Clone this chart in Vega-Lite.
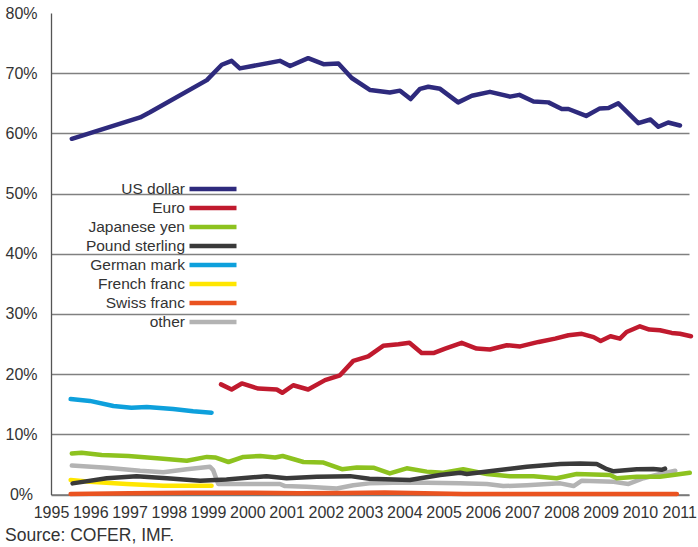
{
  "$schema": "https://vega.github.io/schema/vega-lite/v6.json",
  "autosize": {"type": "none"},
  "width": 638,
  "height": 481.5,
  "padding": {"left": 51, "top": 13, "right": 9, "bottom": 52.5},
  "background": "white",
  "title": {
    "text": "Source: COFER, IMF.",
    "orient": "bottom",
    "anchor": "start",
    "frame": "group",
    "dx": -46,
    "offset": 6,
    "fontSize": 17.5,
    "font": "Liberation Sans",
    "fontWeight": "normal",
    "color": "#333333"
  },
  "config": {
    "view": {"stroke": null},
    "font": "Liberation Sans"
  },
  "datasets": {
    "reserves": [
      {"currency": "other", "year": 1995.53, "share": 4.8},
      {"currency": "other", "year": 1996.42, "share": 4.45},
      {"currency": "other", "year": 1997.27, "share": 3.95},
      {"currency": "other", "year": 1997.86, "share": 3.7},
      {"currency": "other", "year": 1998.46, "share": 4.2},
      {"currency": "other", "year": 1999.05, "share": 4.6},
      {"currency": "other", "year": 1999.13, "share": 4.05},
      {"currency": "other", "year": 1999.26, "share": 1.75},
      {"currency": "other", "year": 1999.81, "share": 1.75},
      {"currency": "other", "year": 2000.83, "share": 1.75},
      {"currency": "other", "year": 2000.96, "share": 1.4},
      {"currency": "other", "year": 2001.51, "share": 1.3},
      {"currency": "other", "year": 2002.28, "share": 1.0},
      {"currency": "other", "year": 2002.7, "share": 1.55},
      {"currency": "other", "year": 2003.11, "share": 1.85},
      {"currency": "other", "year": 2003.72, "share": 1.95},
      {"currency": "other", "year": 2004.57, "share": 1.95},
      {"currency": "other", "year": 2005.42, "share": 1.85},
      {"currency": "other", "year": 2006.1, "share": 1.75},
      {"currency": "other", "year": 2006.52, "share": 1.4},
      {"currency": "other", "year": 2007.12, "share": 1.55},
      {"currency": "other", "year": 2007.97, "share": 1.85},
      {"currency": "other", "year": 2008.31, "share": 1.4},
      {"currency": "other", "year": 2008.52, "share": 2.3},
      {"currency": "other", "year": 2009.33, "share": 2.1},
      {"currency": "other", "year": 2009.71, "share": 1.75},
      {"currency": "other", "year": 2010.09, "share": 2.7},
      {"currency": "other", "year": 2010.51, "share": 3.4},
      {"currency": "other", "year": 2010.9, "share": 3.95},

      {"currency": "French franc", "year": 1995.5, "share": 2.4},
      {"currency": "French franc", "year": 1995.99, "share": 2.1},
      {"currency": "French franc", "year": 1996.93, "share": 1.75},
      {"currency": "French franc", "year": 1997.86, "share": 1.45},
      {"currency": "French franc", "year": 1999.09, "share": 1.45},

      {"currency": "German mark", "year": 1995.5, "share": 15.85},
      {"currency": "German mark", "year": 1995.99, "share": 15.55},
      {"currency": "German mark", "year": 1996.59, "share": 14.7},
      {"currency": "German mark", "year": 1997.05, "share": 14.4},
      {"currency": "German mark", "year": 1997.44, "share": 14.55},
      {"currency": "German mark", "year": 1998.11, "share": 14.2},
      {"currency": "German mark", "year": 1998.62, "share": 13.85},
      {"currency": "German mark", "year": 1999.09, "share": 13.6},

      {"currency": "Japanese yen", "year": 1995.53, "share": 6.8},
      {"currency": "Japanese yen", "year": 1995.78, "share": 6.95},
      {"currency": "Japanese yen", "year": 1996.29, "share": 6.55},
      {"currency": "Japanese yen", "year": 1996.97, "share": 6.4},
      {"currency": "Japanese yen", "year": 1997.78, "share": 6.0},
      {"currency": "Japanese yen", "year": 1998.46, "share": 5.6},
      {"currency": "Japanese yen", "year": 1998.97, "share": 6.25},
      {"currency": "Japanese yen", "year": 1999.18, "share": 6.15},
      {"currency": "Japanese yen", "year": 1999.52, "share": 5.4},
      {"currency": "Japanese yen", "year": 1999.9, "share": 6.25},
      {"currency": "Japanese yen", "year": 2000.33, "share": 6.4},
      {"currency": "Japanese yen", "year": 2000.71, "share": 6.15},
      {"currency": "Japanese yen", "year": 2000.9, "share": 6.4},
      {"currency": "Japanese yen", "year": 2001.43, "share": 5.4},
      {"currency": "Japanese yen", "year": 2001.94, "share": 5.3},
      {"currency": "Japanese yen", "year": 2002.41, "share": 4.2},
      {"currency": "Japanese yen", "year": 2002.79, "share": 4.5},
      {"currency": "Japanese yen", "year": 2003.21, "share": 4.45},
      {"currency": "Japanese yen", "year": 2003.63, "share": 3.5},
      {"currency": "Japanese yen", "year": 2004.06, "share": 4.35},
      {"currency": "Japanese yen", "year": 2004.57, "share": 3.8},
      {"currency": "Japanese yen", "year": 2004.99, "share": 3.6},
      {"currency": "Japanese yen", "year": 2005.5, "share": 4.2},
      {"currency": "Japanese yen", "year": 2006.1, "share": 3.4},
      {"currency": "Japanese yen", "year": 2006.69, "share": 3.05},
      {"currency": "Japanese yen", "year": 2007.29, "share": 3.05},
      {"currency": "Japanese yen", "year": 2007.88, "share": 2.7},
      {"currency": "Japanese yen", "year": 2008.39, "share": 3.4},
      {"currency": "Japanese yen", "year": 2009.24, "share": 3.25},
      {"currency": "Japanese yen", "year": 2009.41, "share": 2.7},
      {"currency": "Japanese yen", "year": 2009.92, "share": 2.95},
      {"currency": "Japanese yen", "year": 2010.51, "share": 2.95},
      {"currency": "Japanese yen", "year": 2011.27, "share": 3.6},

      {"currency": "Pound sterling", "year": 1995.55, "share": 1.85},
      {"currency": "Pound sterling", "year": 1996.42, "share": 2.7},
      {"currency": "Pound sterling", "year": 1997.18, "share": 3.05},
      {"currency": "Pound sterling", "year": 1997.95, "share": 2.7},
      {"currency": "Pound sterling", "year": 1998.8, "share": 2.3},
      {"currency": "Pound sterling", "year": 1999.47, "share": 2.5},
      {"currency": "Pound sterling", "year": 2000.49, "share": 3.05},
      {"currency": "Pound sterling", "year": 2001.0, "share": 2.7},
      {"currency": "Pound sterling", "year": 2001.77, "share": 2.95},
      {"currency": "Pound sterling", "year": 2002.62, "share": 3.05},
      {"currency": "Pound sterling", "year": 2003.11, "share": 2.6},
      {"currency": "Pound sterling", "year": 2004.14, "share": 2.4},
      {"currency": "Pound sterling", "year": 2004.91, "share": 3.25},
      {"currency": "Pound sterling", "year": 2005.42, "share": 3.6},
      {"currency": "Pound sterling", "year": 2005.59, "share": 3.4},
      {"currency": "Pound sterling", "year": 2006.27, "share": 3.95},
      {"currency": "Pound sterling", "year": 2007.12, "share": 4.6},
      {"currency": "Pound sterling", "year": 2007.97, "share": 5.05},
      {"currency": "Pound sterling", "year": 2008.48, "share": 5.15},
      {"currency": "Pound sterling", "year": 2008.9, "share": 5.05},
      {"currency": "Pound sterling", "year": 2009.16, "share": 4.2},
      {"currency": "Pound sterling", "year": 2009.33, "share": 3.85},
      {"currency": "Pound sterling", "year": 2009.92, "share": 4.2},
      {"currency": "Pound sterling", "year": 2010.34, "share": 4.25},
      {"currency": "Pound sterling", "year": 2010.55, "share": 4.1},
      {"currency": "Pound sterling", "year": 2010.64, "share": 4.3},

      {"currency": "Euro", "year": 1999.33, "share": 18.3},
      {"currency": "Euro", "year": 1999.6, "share": 17.45},
      {"currency": "Euro", "year": 1999.86, "share": 18.45},
      {"currency": "Euro", "year": 2000.28, "share": 17.6},
      {"currency": "Euro", "year": 2000.75, "share": 17.45},
      {"currency": "Euro", "year": 2000.89, "share": 16.9},
      {"currency": "Euro", "year": 2001.17, "share": 18.15},
      {"currency": "Euro", "year": 2001.55, "share": 17.45},
      {"currency": "Euro", "year": 2001.98, "share": 19.0},
      {"currency": "Euro", "year": 2002.36, "share": 19.8},
      {"currency": "Euro", "year": 2002.7, "share": 22.2},
      {"currency": "Euro", "year": 2003.08, "share": 22.95},
      {"currency": "Euro", "year": 2003.46, "share": 24.7},
      {"currency": "Euro", "year": 2003.85, "share": 24.95},
      {"currency": "Euro", "year": 2004.13, "share": 25.2},
      {"currency": "Euro", "year": 2004.44, "share": 23.5},
      {"currency": "Euro", "year": 2004.74, "share": 23.5},
      {"currency": "Euro", "year": 2005.04, "share": 24.25},
      {"currency": "Euro", "year": 2005.46, "share": 25.2},
      {"currency": "Euro", "year": 2005.84, "share": 24.25},
      {"currency": "Euro", "year": 2006.18, "share": 24.1},
      {"currency": "Euro", "year": 2006.61, "share": 24.8},
      {"currency": "Euro", "year": 2006.95, "share": 24.6},
      {"currency": "Euro", "year": 2007.42, "share": 25.35},
      {"currency": "Euro", "year": 2007.84, "share": 25.9},
      {"currency": "Euro", "year": 2008.18, "share": 26.45},
      {"currency": "Euro", "year": 2008.52, "share": 26.7},
      {"currency": "Euro", "year": 2008.82, "share": 26.15},
      {"currency": "Euro", "year": 2009.0, "share": 25.5},
      {"currency": "Euro", "year": 2009.25, "share": 26.3},
      {"currency": "Euro", "year": 2009.49, "share": 25.9},
      {"currency": "Euro", "year": 2009.66, "share": 27.0},
      {"currency": "Euro", "year": 2010.0, "share": 27.95},
      {"currency": "Euro", "year": 2010.24, "share": 27.4},
      {"currency": "Euro", "year": 2010.51, "share": 27.3},
      {"currency": "Euro", "year": 2010.81, "share": 26.85},
      {"currency": "Euro", "year": 2011.02, "share": 26.7},
      {"currency": "Euro", "year": 2011.3, "share": 26.3},

      {"currency": "US dollar", "year": 1995.53, "share": 59.1},
      {"currency": "US dollar", "year": 1997.27, "share": 62.65},
      {"currency": "US dollar", "year": 1997.52, "share": 63.5},
      {"currency": "US dollar", "year": 1998.97, "share": 68.85},
      {"currency": "US dollar", "year": 1999.35, "share": 71.4},
      {"currency": "US dollar", "year": 1999.6, "share": 72.05},
      {"currency": "US dollar", "year": 1999.81, "share": 70.8},
      {"currency": "US dollar", "year": 2000.83, "share": 72.05},
      {"currency": "US dollar", "year": 2001.09, "share": 71.2},
      {"currency": "US dollar", "year": 2001.55, "share": 72.5},
      {"currency": "US dollar", "year": 2001.94, "share": 71.5},
      {"currency": "US dollar", "year": 2002.32, "share": 71.6},
      {"currency": "US dollar", "year": 2002.66, "share": 69.2},
      {"currency": "US dollar", "year": 2003.13, "share": 67.2},
      {"currency": "US dollar", "year": 2003.63, "share": 66.8},
      {"currency": "US dollar", "year": 2003.89, "share": 67.1},
      {"currency": "US dollar", "year": 2004.16, "share": 65.7},
      {"currency": "US dollar", "year": 2004.4, "share": 67.4},
      {"currency": "US dollar", "year": 2004.61, "share": 67.75},
      {"currency": "US dollar", "year": 2004.91, "share": 67.4},
      {"currency": "US dollar", "year": 2005.37, "share": 65.15},
      {"currency": "US dollar", "year": 2005.72, "share": 66.25},
      {"currency": "US dollar", "year": 2006.18, "share": 66.9},
      {"currency": "US dollar", "year": 2006.69, "share": 66.1},
      {"currency": "US dollar", "year": 2006.93, "share": 66.4},
      {"currency": "US dollar", "year": 2007.29, "share": 65.3},
      {"currency": "US dollar", "year": 2007.67, "share": 65.15},
      {"currency": "US dollar", "year": 2008.01, "share": 64.05},
      {"currency": "US dollar", "year": 2008.18, "share": 64.05},
      {"currency": "US dollar", "year": 2008.63, "share": 62.9},
      {"currency": "US dollar", "year": 2008.98, "share": 64.15},
      {"currency": "US dollar", "year": 2009.2, "share": 64.2},
      {"currency": "US dollar", "year": 2009.45, "share": 65.0},
      {"currency": "US dollar", "year": 2009.96, "share": 61.7},
      {"currency": "US dollar", "year": 2010.27, "share": 62.3},
      {"currency": "US dollar", "year": 2010.47, "share": 61.1},
      {"currency": "US dollar", "year": 2010.72, "share": 61.8},
      {"currency": "US dollar", "year": 2011.02, "share": 61.3},

      {"currency": "Swiss franc", "year": 1995.5, "share": 0.1},
      {"currency": "Swiss franc", "year": 1997.0, "share": 0.2},
      {"currency": "Swiss franc", "year": 1998.5, "share": 0.3},
      {"currency": "Swiss franc", "year": 2000.0, "share": 0.3},
      {"currency": "Swiss franc", "year": 2001.3, "share": 0.2},
      {"currency": "Swiss franc", "year": 2002.5, "share": 0.25},
      {"currency": "Swiss franc", "year": 2003.5, "share": 0.35},
      {"currency": "Swiss franc", "year": 2004.5, "share": 0.2},
      {"currency": "Swiss franc", "year": 2005.5, "share": 0.1},
      {"currency": "Swiss franc", "year": 2008.0, "share": 0.1},
      {"currency": "Swiss franc", "year": 2010.94, "share": 0.1}
    ]
  },
  "data": {"name": "reserves"},
  "mark": {
    "type": "line",
    "strokeWidth": 4.5,
    "strokeCap": "round",
    "strokeJoin": "round",
    "clip": false
  },
  "encoding": {
    "x": {
      "field": "year",
      "type": "quantitative",
      "scale": {"domain": [1995, 2011.25], "nice": false, "zero": false},
      "axis": {
        "title": null,
        "values": [1995, 1996, 1997, 1998, 1999, 2000, 2001, 2002, 2003, 2004, 2005, 2006, 2007, 2008, 2009, 2010, 2011],
        "format": "d",
        "grid": false,
        "ticks": false,
        "tickSize": 0,
        "labelPadding": 10,
        "labelFontSize": 16,
        "labelFont": "Liberation Sans",
        "labelColor": "#333333",
        "labelOverlap": false,
        "labelFlush": false,
        "labelBound": false,
        "domainColor": "#777777",
        "domainWidth": 1.3
      }
    },
    "y": {
      "field": "share",
      "type": "quantitative",
      "scale": {"domain": [0, 80], "nice": false},
      "axis": {
        "title": null,
        "values": [0, 10, 20, 30, 40, 50, 60, 70, 80],
        "labelExpr": "datum.value + '%'",
        "grid": true,
        "gridColor": "#808080",
        "gridWidth": 1.3,
        "gridOpacity": {"condition": {"test": "datum.value >= 80", "value": 0}, "value": 1},
        "ticks": false,
        "tickSize": 0,
        "labelAlign": "center",
        "labelBaseline": "middle",
        "labelPadding": 30,
        "labelFontSize": 16,
        "labelFont": "Liberation Sans",
        "labelColor": "#333333",
        "labelOverlap": false,
        "labelFlush": false,
        "labelBound": false,
        "domainColor": "#555555",
        "domainWidth": 1.3
      }
    },
    "color": {
      "field": "currency",
      "type": "nominal",
      "scale": {
        "domain": ["US dollar", "Euro", "Japanese yen", "Pound sterling", "German mark", "French franc", "Swiss franc", "other"],
        "range": ["#2e2a7d", "#c01a2e", "#8dc21f", "#3a3a3a", "#0ea0dc", "#ffe600", "#ea5320", "#b3b3b3"]
      },
      "legend": {
        "title": null,
        "orient": "none",
        "legendX": 153.5,
        "legendY": 167.6,
        "padding": 0,
        "symbolType": "M-3.917,0H3.917",
        "symbolSize": 144,
        "symbolStrokeWidth": 4.5,
        "symbolFillColor": "transparent",
        "rowPadding": 0,
        "labelAlign": "right",
        "labelOffset": -36.5,
        "labelFontSize": 15.5,
        "labelFont": "Liberation Sans",
        "labelColor": "#333333",
        "labelLimit": 0
      }
    },
    "order": {"field": "year", "type": "quantitative"}
  }
}
